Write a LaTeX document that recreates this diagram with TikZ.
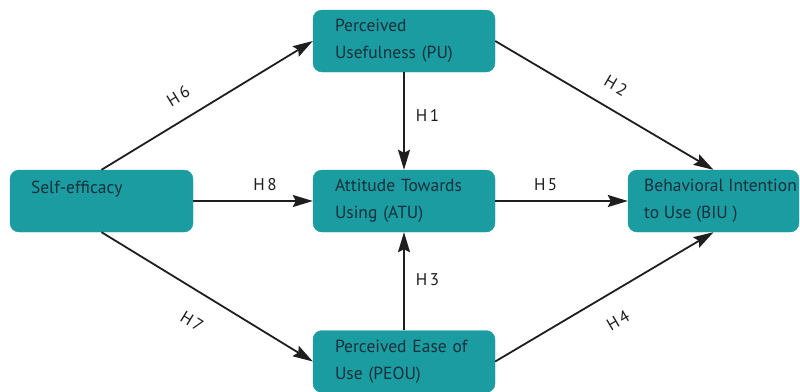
\documentclass[tikz,border=0pt]{standalone}
\usepackage{fontspec}
\setmainfont{PT Sans}
\usetikzlibrary{arrows.meta}
\definecolor{boxfill}{HTML}{1A9CA1}
\definecolor{boxtext}{HTML}{17303C}
\definecolor{linec}{HTML}{1E1E1E}
\begin{document}
\begin{tikzpicture}[x=1pt,y=-1pt,
  box/.style={draw=boxfill, fill=boxfill, rounded corners=9pt, minimum height=62pt,
    align=left, text=boxtext, font=\fontsize{17.5}{27}\selectfont, anchor=center},
  conn/.style={draw=linec, line width=1.8pt, -{Stealth[length=20pt,width=12pt,inset=3pt]}},
  hlab/.style={font=\fontsize{17}{18}\selectfont, text=linec, inner sep=0pt}]
\useasboundingbox (0,0) rectangle (800,391);
\node[box, minimum width=183pt, text width=141pt, inner xsep=21pt] (se) at (101.5,201) {Self-efficacy\\[0pt]\mbox{}};
\node[box, minimum width=182pt, text width=138pt, inner xsep=22pt] (pu) at (404,41) {Perceived\\Usefulness (PU)};
\node[box, minimum width=182pt, text width=138pt, inner xsep=22pt] (atu) at (404,201) {Attitude Towards\\Using (ATU)};
\node[box, minimum width=182pt, text width=138pt, inner xsep=22pt] (peou) at (404,361.5) {Perceived Ease of\\Use (PEOU)};
\node[box, minimum width=171pt, inner xsep=0pt] (biu) at (713.5,201) {\hspace*{14pt}Behavioral Intention\\\hspace*{14pt}to Use (BIU )};
\draw[conn] (se.north) -- node[hlab, pos=0.42, sloped, above=16pt] (h6) {H\kern2.5pt6} (pu.west);
\draw[conn] (se.east) -- node[hlab, pos=0.6, above=9pt] (h8) {H\kern2.5pt8} (atu.west);
\draw[conn] (se.south) -- node[hlab, pos=0.5, sloped, below=22pt] (h7) {H\kern2.5pt7} (peou.west);
\draw[conn] (pu.south) -- node[hlab, pos=0.44, right=11pt] (h1) {H\kern2.5pt1} (atu.north);
\draw[conn] (peou.north) -- node[hlab, pos=0.52, right=11pt] (h3) {H\kern2.5pt3} (atu.south);
\draw[conn] (pu.east) -- node[hlab, pos=0.5, sloped, above=16pt] (h2) {H\kern2.5pt2} (biu.north);
\draw[conn] (atu.east) -- node[hlab, pos=0.38, above=9pt] (h5) {H\kern2.5pt5} (biu.west);
\draw[conn] (peou.east) -- node[hlab, pos=0.5, sloped, below=20pt] (h4) {H\kern2.5pt4} (biu.south);
\end{tikzpicture}
\end{document}
